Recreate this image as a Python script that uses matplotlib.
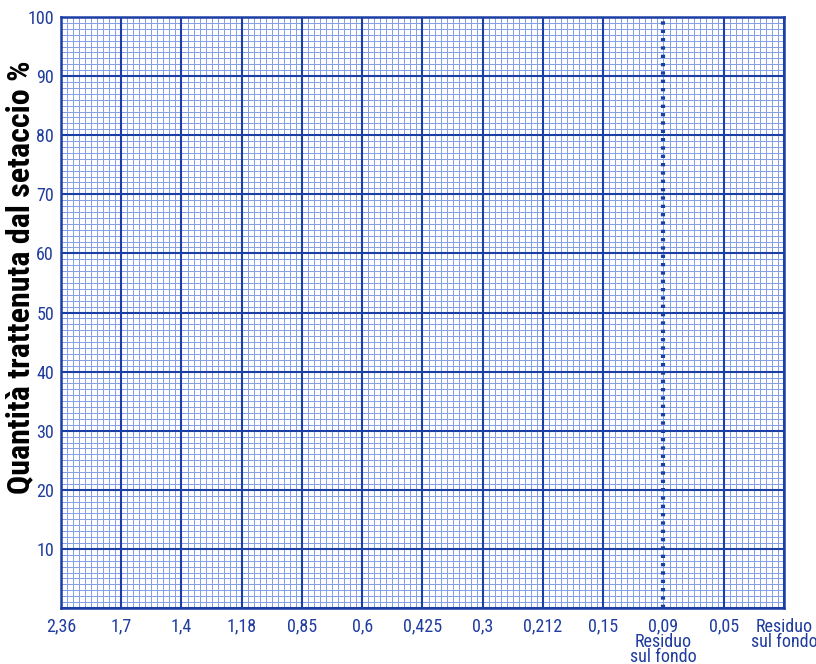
import matplotlib
matplotlib.use('Agg')
import matplotlib.pyplot as plt
import numpy as np

# etichette dei setacci (mm) sull'asse x
x_labels = ['2,36', '1,7', '1,4', '1,18', '0,85', '0,6', '0,425', '0,3',
            '0,212', '0,15', '0,09\nResiduo\nsul fondo', '0,05', 'Residuo\nsul fondo']
y_ticks = [10, 20, 30, 40, 50, 60, 70, 80, 90, 100]
y_labels = ['10', '20', '30', '40', '50', '60', '70', '80', '90', '100']
dotted_pos = 10   # la colonna 0,09 e' tratteggiata

major_col = '#1c3fa6'
minor_col = '#86a0e6'
text_col = '#1f3c9e'
fam = ['Roboto Condensed', 'DejaVu Sans']

fig = plt.figure(figsize=(8.16, 6.64), dpi=100)
ax = fig.add_axes([61/816, 56/664, 723/816, 591/664])

n = len(x_labels) - 1
ax.set_xlim(0, n)
ax.set_ylim(0, 100)

# griglia fine (1 px, senza antialias per evitare moire')
for xv in np.arange(0, n * 10 + 1) / 10:
    ax.axvline(xv, color=minor_col, lw=0.72, antialiased=False, zorder=1)
for yv in range(0, 101):
    ax.axhline(yv, color=minor_col, lw=0.72, antialiased=False, zorder=1)

# griglia principale
for i in range(n + 1):
    if i == dotted_pos:
        ax.axvline(i, color=major_col, lw=3.0, ls=(0, (0.8, 1.2)),
                   dash_capstyle='butt', zorder=3)
    else:
        ax.axvline(i, color=major_col, lw=1.5, zorder=2)
for yv in [0] + y_ticks:
    ax.axhline(yv, color=major_col, lw=1.5, zorder=2)

for s in ax.spines.values():
    s.set_color(major_col)
    s.set_linewidth(1.8)

ax.set_xticks(range(n + 1))
ax.set_xticklabels(x_labels, family=fam, fontsize=13, color=text_col,
                   linespacing=0.78)
ax.set_yticks(y_ticks)
ax.set_yticklabels(y_labels, family=fam, fontsize=13, color=text_col)
ax.tick_params(axis='x', length=0, pad=7)
ax.tick_params(axis='y', length=0, pad=5)

fig.text(20/816, 1 - 277/664, 'Quantità trattenuta dal setaccio %', rotation=90,
         ha='center', va='center', family=fam, fontsize=23,
         fontweight='bold', color='black')

fig.savefig('out.png', dpi=100)
